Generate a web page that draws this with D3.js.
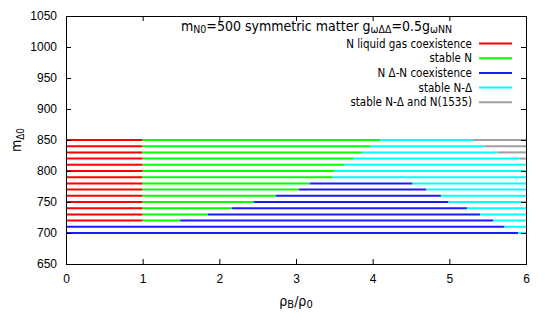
<!DOCTYPE html>
<html lang="en">
<head>
    <meta charset="UTF-8">
    <title>m_Delta0 phase diagram</title>
    <script src="https://d3js.org/d3.v7.min.js"></script>
    <style>
        body {
            margin: 0;
            background-color: #ffffff;
        }

        svg {
            font-family: "DejaVu Sans Condensed", "DejaVu Sans", sans-serif;
        }

        .tick-label {
            font-size: 12px;
            fill: #000;
        }

        .legend-text {
            font-size: 11.5px;
            fill: #000;
            text-anchor: end;
        }

        .frame {
            fill: none;
            stroke: #000;
            stroke-width: 1px;
        }

        .phase {
            fill: none;
            stroke-width: 2px;
        }
    </style>
</head>
<body>
    <svg id="chart" width="545" height="327"></svg>

    <script>
        // Delta mass values (one horizontal line per value)
        const mDelta = [850, 840, 830, 820, 810, 800, 790, 780, 770, 760, 750, 740, 730, 720, 710, 700];

        // Right end (in rho_B/rho_0) of each phase along each line; null = phase absent
        const liquidGasEnd = [1, 1, 1, 1, 1, 1, 1, 1, 1, 1, 1, 1, 1, 1, null, null];
        const stableNEnd = [4.10, 3.97, 3.86, 3.75, 3.63, 3.50, 3.47, 3.18, 3.04, 2.74, 2.45, 2.16, 1.85, 1.49, null, null];
        const coexistEnd = [null, null, null, null, null, null, null, 4.52, 4.70, 4.89, 4.99, 5.23, 5.40, 5.57, 5.72, 5.90];
        const stableNDEnd = [5.31, 5.46, 5.63, 5.92, 6, 6, 6, 6, 6, 6, 6, 6, 6, 6, 6, 6];
        const stableN1535End = [6, 6, 6, 6, null, null, null, null, null, null, null, null, null, null, null, null];

        const phaseNames = ["N liquid gas coexistence", "stable N", "N \u0394-N coexistence", "stable N-\u0394", "stable N-\u0394 and N(1535)"];
        const phaseColors = ["#ff0000", "#00ff00", "#1a1aff", "#00ffff", "#a0a0a0"];
        const phaseEnds = [liquidGasEnd, stableNEnd, coexistEnd, stableNDEnd, stableN1535End];

        const xTicks = [0, 1, 2, 3, 4, 5, 6];
        const yTicks = [650, 700, 750, 800, 850, 900, 950, 1000, 1050];

        const svg = d3.select("#chart");
        const margin = { top: 16, right: 19, bottom: 63, left: 66 };
        const width = +svg.attr("width") - margin.left - margin.right;
        const height = +svg.attr("height") - margin.top - margin.bottom;

        const x = d3.scaleLinear().domain([0, 6]).range([0, width]);
        const y = d3.scaleLinear().domain([650, 1050]).range([height, 0]);

        const g = svg.append("g")
            .attr("transform", `translate(${margin.left},${margin.top})`);

        // Build segments from the phase boundaries
        const segments = [];
        mDelta.forEach((m, i) => {
            let start = 0;
            phaseEnds.forEach((ends, p) => {
                const end = ends[i];
                if (end !== null) {
                    segments.push({ m: m, x0: start, x1: end, phase: p });
                    start = end;
                }
            });
        });

        // Draw phase lines, in phase order like gnuplot
        for (let p = 0; p < phaseNames.length; p++) {
            g.selectAll(".phase-" + p)
                .data(segments.filter(d => d.phase === p))
                .enter().append("line")
                .attr("class", "phase phase-" + p)
                .attr("x1", d => x(d.x0))
                .attr("x2", d => x(d.x1))
                .attr("y1", d => y(d.m))
                .attr("y2", d => y(d.m))
                .attr("stroke", phaseColors[p]);
        }

        // Axes with inward ticks, mirrored on top and right
        const tickLen = 5;
        const fmt = d3.format("d");
        g.append("g")
            .attr("transform", `translate(0,${height})`)
            .call(d3.axisBottom(x).tickValues(xTicks).tickFormat(fmt).tickSizeInner(-tickLen).tickSizeOuter(0).tickPadding(10))
            .call(a => a.select(".domain").remove())
            .call(a => a.selectAll("text").attr("class", "tick-label"));

        g.append("g")
            .call(d3.axisTop(x).tickValues(xTicks.slice(1, -1)).tickSizeInner(-tickLen).tickSizeOuter(0).tickFormat(""))
            .call(a => a.select(".domain").remove());

        g.append("g")
            .call(d3.axisLeft(y).tickValues(yTicks).tickFormat(fmt).tickSizeInner(-tickLen).tickSizeOuter(0).tickPadding(9))
            .call(a => a.select(".domain").remove())
            .call(a => a.selectAll("text").attr("class", "tick-label"));

        g.append("g")
            .attr("transform", `translate(${width},0)`)
            .call(d3.axisRight(y).tickValues(yTicks.slice(1, -1)).tickSizeInner(-tickLen).tickSizeOuter(0).tickFormat(""))
            .call(a => a.select(".domain").remove());

        g.selectAll(".tick line").attr("stroke", "#000");

        g.append("rect")
            .attr("class", "frame")
            .attr("x", 0.5)
            .attr("y", 0.5)
            .attr("width", width)
            .attr("height", height);

        // Title with subscripts
        const title = g.append("text")
            .attr("x", 115)
            .attr("y", 14.5);
        const titleParts = [["m", 0], ["N0", 1], ["=500 symmetric matter g", 0], ["\u03c9\u0394\u0394", 1], ["=0.5g", 0], ["\u03c9NN", 1]];
        titleParts.forEach(([t, sub], i) => {
            const prevSub = i > 0 ? titleParts[i - 1][1] : 0;
            title.append("tspan")
                .attr("dy", sub && !prevSub ? 2.5 : (!sub && prevSub ? -2.5 : 0))
                .attr("font-size", sub ? "10.5px" : "14px")
                .text(t);
        });

        // Legend
        const legend = g.selectAll(".legend-item")
            .data(phaseNames)
            .enter().append("g")
            .attr("class", "legend-item")
            .attr("transform", (d, i) => `translate(0,${27.5 + i * 14.7})`);

        legend.append("text")
            .attr("class", "legend-text")
            .attr("x", 406)
            .attr("y", 4)
            .text(d => d);

        legend.append("line")
            .attr("x1", 413)
            .attr("x2", 446)
            .attr("y1", 0)
            .attr("y2", 0)
            .attr("stroke", (d, i) => phaseColors[i])
            .attr("stroke-width", 2);

        // Axis labels
        const xLabel = svg.append("text")
            .attr("x", margin.left + width / 2)
            .attr("y", 306)
            .attr("text-anchor", "middle")
            .attr("font-size", "14px");
        xLabel.append("tspan").text("\u03c1");
        xLabel.append("tspan").attr("dy", 2).attr("font-size", "11px").text("B");
        xLabel.append("tspan").attr("dy", -2).text("/\u03c1");
        xLabel.append("tspan").attr("dy", 2).attr("font-size", "11px").text("0");

        const yLabel = svg.append("text")
            .attr("transform", `translate(21,${margin.top + height / 2}) rotate(-90)`)
            .attr("text-anchor", "middle")
            .attr("font-size", "14px");
        yLabel.append("tspan").text("m");
        yLabel.append("tspan").attr("dy", 3).attr("font-size", "10px").text("\u03940");
    </script>
</body>
</html>
